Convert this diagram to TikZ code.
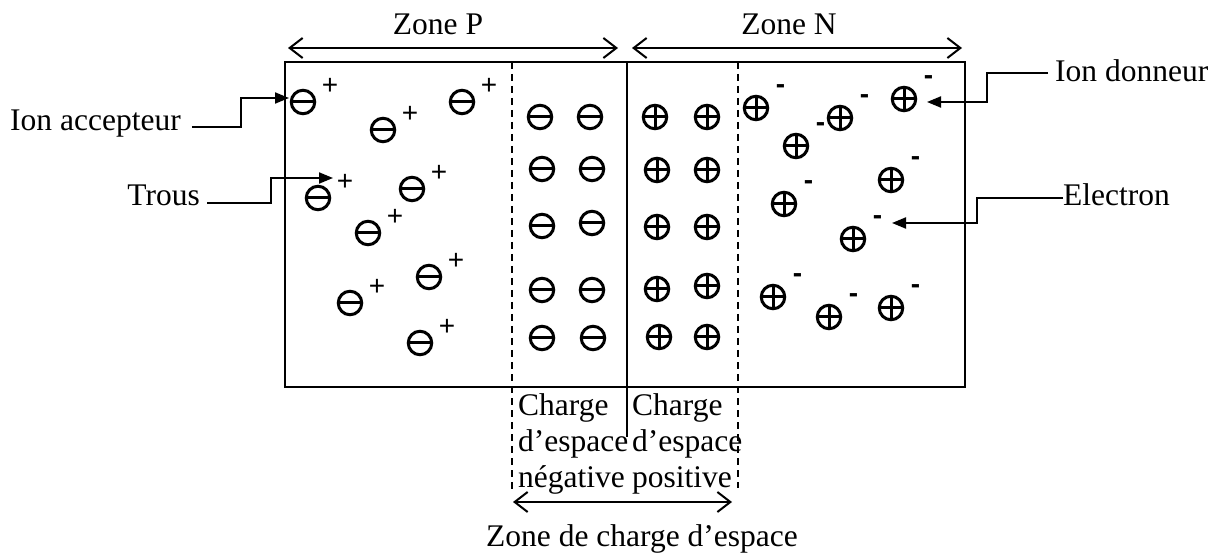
\documentclass[tikz,border=0pt]{standalone}
\usepackage{fontspec}
\setmainfont{Liberation Serif}
\newfontfamily\sgnfont{Liberation Sans}
\usetikzlibrary{arrows.meta}
\begin{document}
\begin{tikzpicture}[x=1pt,y=-1pt,
  lbl/.style={font=\fontsize{31.5}{36}\selectfont, inner sep=0pt},
  supp/.style={font=\sgnfont\fontsize{28}{28}\selectfont, inner sep=0pt},
  supm/.style={font=\sgnfont\bfseries\fontsize{28}{28}\selectfont, inner sep=0pt},
  negion/.style={circle, draw, line width=3pt, minimum size=23.5pt, inner sep=0pt,
    path picture={\draw[line width=3pt] (path picture bounding box.west) -- (path picture bounding box.east);}},
  posion/.style={circle, draw, line width=3pt, minimum size=23.5pt, inner sep=0pt,
    path picture={\draw[line width=3pt] (path picture bounding box.west) -- (path picture bounding box.east)
      (path picture bounding box.north) -- (path picture bounding box.south);}},
  conn/.style={line width=2pt, -{Triangle[length=14pt,width=11pt]}},
  dim/.style={line width=2pt, {Straight Barb[length=13pt,width=20pt]}-{Straight Barb[length=13pt,width=20pt]}},
  boxline/.style={line width=2pt},
  zoneline/.style={line width=1.8pt, dash pattern=on 7pt off 5pt},
]
\useasboundingbox (0,0) rectangle (1221,553);

% main box and zone separators
\draw[boxline] (285,62) rectangle (965,387);
\coordinate (dlT) at (512,62);  \coordinate (dlB) at (512,492);
\coordinate (drT) at (738,62);  \coordinate (drB) at (738,488);
\coordinate (mT) at (627,62);   \coordinate (mB) at (627,437);
\draw[zoneline] (dlT) -- (dlB);
\draw[zoneline, line width=1.5pt] (drT) -- (drB);
\draw[line width=1.8pt] (mT) -- (mB);

% top dimension arrows
\coordinate (pL) at (288,48); \coordinate (pR) at (618,48);
\coordinate (nL) at (632,48); \coordinate (nR) at (962,48);
\draw[dim] (pL) -- (pR);
\draw[dim] (nL) -- (nR);
\node[lbl, anchor=base] (zoneP) at (438,35) {Zone P};
\node[lbl, anchor=base] (zoneN) at (789,35) {Zone N};

% P side: acceptor ions with holes
\foreach \x/\y [count=\i] in {303/102, 383/130, 462/102, 318/198, 412/189, 368/233, 350/303, 429/277, 420/343} {
  \node[negion] (a\i) at (\x,\y) {};
  \path (a\i) ++(27,-16) node[supp] (h\i) {+};
}

% depletion region negative ions
\foreach \x/\y [count=\i] in {540/117, 590/117, 542/169, 592/169, 542/226, 592/223, 542/290, 592/290, 542/338, 593/338} {
  \node[negion] (dn\i) at (\x,\y) {};
}
% depletion region positive ions
\foreach \x/\y [count=\i] in {655/117, 707/117, 657/170, 707/170, 657/227, 707/227, 657/289, 707/286, 659/337, 707/337} {
  \node[posion] (dp\i) at (\x,\y) {};
}

% N side: donor ions with electrons
\foreach \x/\y [count=\i] in {756/108, 840/118, 796/146, 904/99, 891/180, 784/204, 853/239, 773/297, 829/317, 891/308} {
  \node[posion] (d\i) at (\x,\y) {};
  \path (d\i) ++(24.5,-19) node[supm] (e\i) {-};
}

% labels and pointers
\node[lbl, anchor=base west] (acc) at (10,131) {Ion accepteur};
\node[lbl, anchor=base east] (trous) at (200,206) {Trous};
\node[lbl, anchor=base west] (don) at (1055,82) {Ion donneur};
\node[lbl, anchor=base west] (elec) at (1063,206) {Electron};
\coordinate (accT) at (289,98);
\coordinate (trousT) at (333,178);
\coordinate (donT) at (927,102);
\coordinate (elecT) at (892,223);
\draw[conn] ([xshift=11pt,yshift=4pt]acc.base east) -- ++(49,0) |- (accT);
\draw[conn] ([xshift=7pt,yshift=3pt]trous.base east) -- ++(64,0) |- (trousT);
\draw[conn] ([xshift=-7pt,yshift=9pt]don.base west) -- ++(-61,0) |- (donT);
\draw[conn] ([yshift=8pt]elec.base west) -- ++(-86,0) |- (elecT);

% space charge labels
\node[lbl, anchor=base west, align=left] (cneg) at (518,487) {Charge\\d’espace\\négative};
\node[lbl, anchor=base west, align=left] (cpos) at (632,487) {Charge\\d’espace\\positive};
\coordinate (zL) at (513,502); \coordinate (zR) at (732,502);
\draw[dim] (zL) -- (zR);
\node[lbl, anchor=base west] (zce) at (486,546) {Zone de charge d’espace};
\end{tikzpicture}
\end{document}
